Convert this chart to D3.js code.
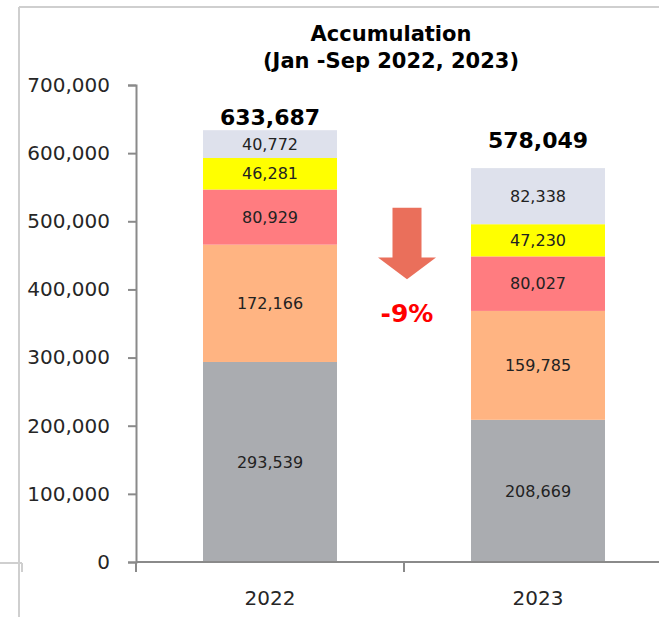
<!DOCTYPE html>
<html>
<head>
<meta charset="utf-8">
<script src="https://cdn.jsdelivr.net/npm/d3@7"></script>
<style>
  html, body { margin: 0; padding: 0; background: #fff; }
  svg { display: block; }
</style>
</head>
<body>
<svg id="chart" width="659" height="617"></svg>
<script>
// ---- data ----
const years = ["2022", "2023"];
const seriesNames = ["s1", "s2", "s3", "s4", "s5"];
const s1 = [293539, 208669];
const s2 = [172166, 159785];
const s3 = [80929, 80027];
const s4 = [46281, 47230];
const s5 = [40772, 82338];
const seriesColors = ["#AAACB0", "#FFB482", "#FF7C80", "#FFFF00", "#DEE1EC"];
const yTicks = [0, 100000, 200000, 300000, 400000, 500000, 600000, 700000];
const titleLines = ["Accumulation", "(Jan -Sep 2022, 2023)"];

const seriesValues = [s1, s2, s3, s4, s5];
const rows = years.map((yr, i) => {
  const r = { year: yr };
  seriesNames.forEach((n, k) => r[n] = seriesValues[k][i]);
  return r;
});
const totals = rows.map(r => d3.sum(seriesNames, n => r[n]));

const svg = d3.select("#chart");
const W = 659, H = 617;
const fontBase = "'DejaVu Sans', Verdana, sans-serif";

// frame remnants
const frameColor = "#CFCFCF";
svg.append("line").attr("x1", 19).attr("x2", W).attr("y1", 7).attr("y2", 7)
  .attr("stroke", frameColor).attr("stroke-width", 2);
svg.append("line").attr("x1", 19).attr("x2", 19).attr("y1", 7).attr("y2", H)
  .attr("stroke", frameColor).attr("stroke-width", 2);
svg.append("line").attr("x1", 0).attr("x2", 22).attr("y1", 563).attr("y2", 563)
  .attr("stroke", frameColor).attr("stroke-width", 2);
svg.append("line").attr("x1", 22).attr("x2", 22).attr("y1", 563).attr("y2", 572)
  .attr("stroke", frameColor).attr("stroke-width", 2);

// scales
const y = d3.scaleLinear().domain([0, 700000]).range([562, 85]);
const x = d3.scaleBand().domain(years).range([136, 672]).paddingInner(0.5).paddingOuter(0.25);

const stack = d3.stack().keys(seriesNames);
const stacked = stack(rows);

// bars
const layers = svg.append("g").selectAll("g").data(stacked).join("g")
  .attr("fill", (d, i) => seriesColors[i]);
layers.selectAll("rect").data(d => d.map(p => ({ p, key: d.key }))).join("rect")
  .attr("x", d => x(d.p.data.year))
  .attr("width", x.bandwidth())
  .attr("y", d => y(d.p[1]))
  .attr("height", d => y(d.p[0]) - y(d.p[1]));

// segment labels
const fmt = d3.format(",");
layers.selectAll("text").data(d => d.map(p => ({ p, key: d.key }))).join("text")
  .attr("x", d => x(d.p.data.year) + x.bandwidth() / 2)
  .attr("y", d => (y(d.p[0]) + y(d.p[1])) / 2)
  .attr("dy", "0.36em")
  .attr("text-anchor", "middle")
  .attr("fill", "#222")
  .style("font-family", fontBase)
  .style("font-size", "16px")
  .text(d => fmt(d.p[1] - d.p[0]));

// totals
svg.append("g").selectAll("text").data(years).join("text")
  .attr("x", d => x(d) + x.bandwidth() / 2)
  .attr("y", (d, i) => Math.max(y(totals[i]) - 20, y(700000) + 40))
  .attr("text-anchor", "middle")
  .attr("fill", "#000")
  .style("font-family", fontBase)
  .style("font-weight", "bold")
  .style("font-size", "22px")
  .text((d, i) => fmt(totals[i]));

// y axis
const axisColor = "#8A8A8A";
const yAxis = svg.append("g").attr("transform", "translate(136,0)")
  .call(d3.axisLeft(y).tickValues(yTicks).tickFormat(fmt).tickSize(8).tickPadding(18));
yAxis.select(".domain").attr("stroke", axisColor).attr("stroke-width", 2);
yAxis.selectAll(".tick line").attr("stroke", axisColor).attr("stroke-width", 2);
yAxis.selectAll(".tick text")
  .attr("fill", "#262626")
  .style("font-family", fontBase)
  .style("font-size", "20px");

// x axis
const xAxisG = svg.append("g").attr("transform", "translate(0,562)");
xAxisG.append("line").attr("x1", 136).attr("x2", W).attr("y1", 0).attr("y2", 0)
  .attr("stroke", axisColor).attr("stroke-width", 2);
const boundaries = [x.range()[0], x.range()[0] + x.step()];
xAxisG.selectAll("line.tk").data(boundaries).join("line").attr("class", "tk")
  .attr("x1", d => d).attr("x2", d => d).attr("y1", 0).attr("y2", 10)
  .attr("stroke", axisColor).attr("stroke-width", 2);
xAxisG.selectAll("text").data(years).join("text")
  .attr("x", d => x(d) + x.bandwidth() / 2)
  .attr("y", 43)
  .attr("text-anchor", "middle")
  .attr("fill", "#262626")
  .style("font-family", fontBase)
  .style("font-size", "20px")
  .text(d => d);

// title
svg.append("g").selectAll("text").data(titleLines).join("text")
  .attr("x", 391)
  .attr("y", (d, i) => 41 + i * 27)
  .attr("text-anchor", "middle")
  .attr("fill", "#000")
  .style("font-family", fontBase)
  .style("font-weight", "bold")
  .style("font-size", "21px")
  .text(d => d);

// change arrow
const cx = x.range()[0] + x.step() + 3;
const yTop = y(520000), yHeadStart = y(447000), yTip = y(415000);
const shaftW = 29, headW = 58;
const arrowPath = d3.path();
arrowPath.moveTo(cx - shaftW / 2, yTop);
arrowPath.lineTo(cx + shaftW / 2, yTop);
arrowPath.lineTo(cx + shaftW / 2, yHeadStart);
arrowPath.lineTo(cx + headW / 2, yHeadStart);
arrowPath.lineTo(cx, yTip);
arrowPath.lineTo(cx - headW / 2, yHeadStart);
arrowPath.lineTo(cx - shaftW / 2, yHeadStart);
arrowPath.closePath();
svg.append("path").attr("d", arrowPath.toString()).attr("fill", "#EA6F5B");

const pct = Math.round((totals[1] / totals[0] - 1) * 100);
svg.append("text")
  .attr("x", cx)
  .attr("y", y(352000))
  .attr("text-anchor", "middle")
  .attr("fill", "#FF0000")
  .style("font-family", fontBase)
  .style("font-weight", "bold")
  .style("font-size", "25px")
  .text(pct + "%");
</script>
</body>
</html>
